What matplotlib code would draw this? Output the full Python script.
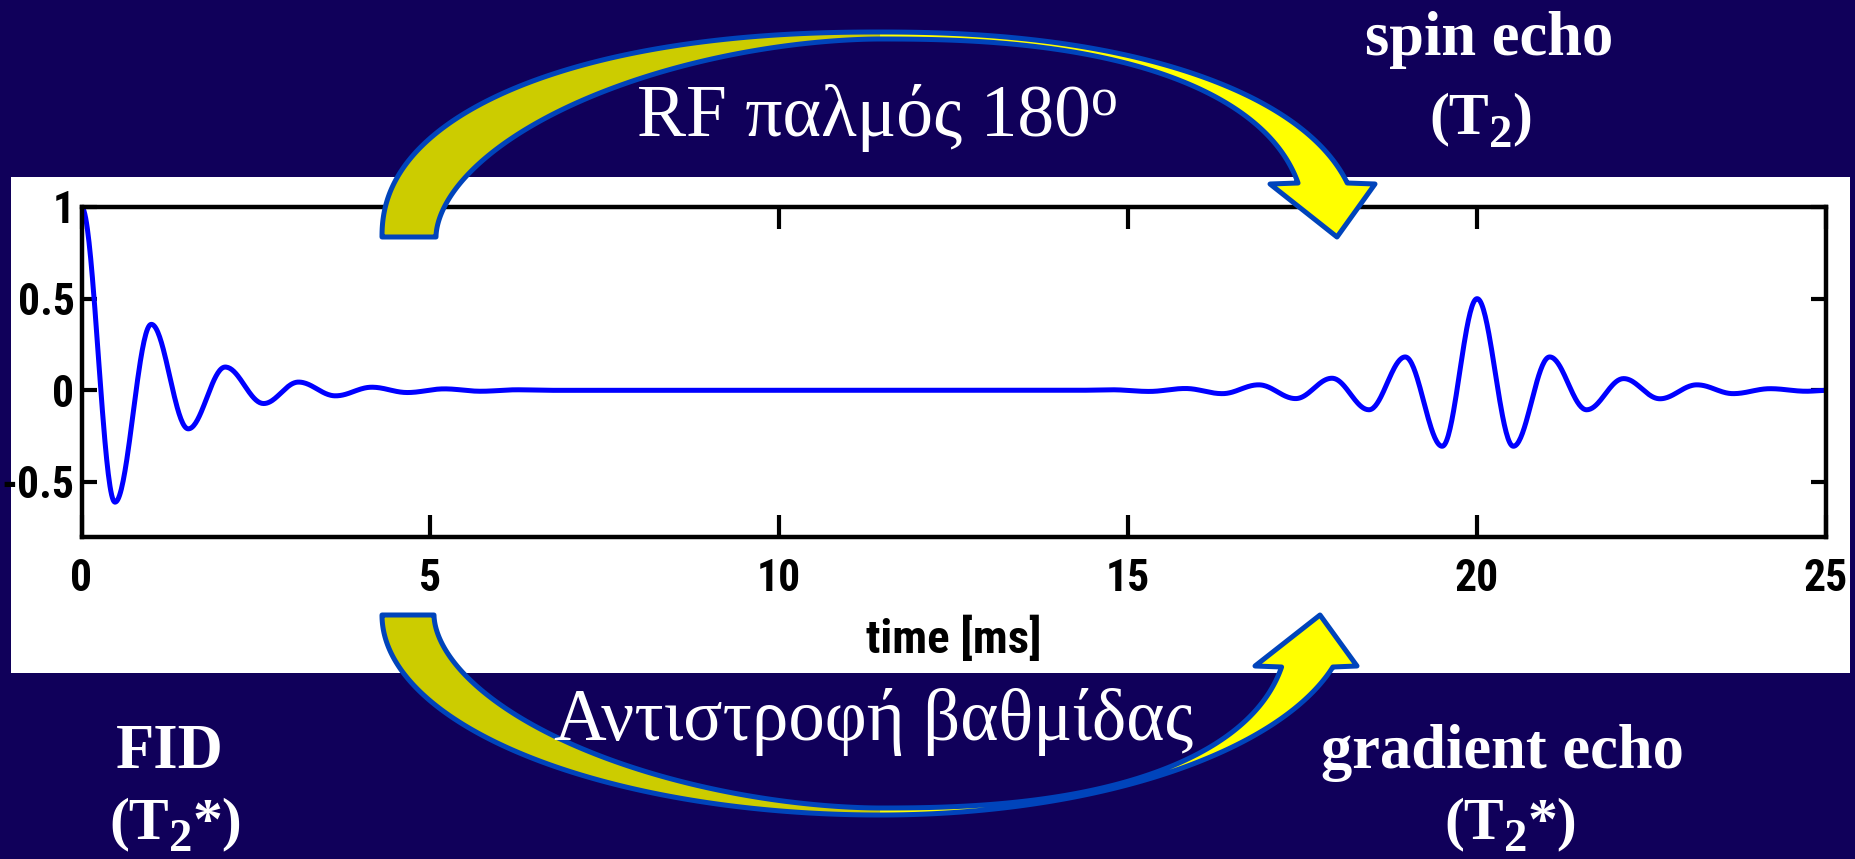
import numpy as np
import matplotlib
matplotlib.use("Agg")
import matplotlib.pyplot as plt
from matplotlib import font_manager
from matplotlib.patches import Polygon, Rectangle

# ---------------- data: signal extrema (time in ms, amplitude) ----------------
fid_time = [0.0, 0.48, 1.00, 1.53, 2.06, 2.61, 3.11, 3.64, 4.16, 4.67, 5.20, 5.72, 6.24, 6.76]
fid_amp = [1.0, -0.61, 0.36, -0.21, 0.127, -0.072, 0.045, -0.030, 0.017, -0.012, 0.008, -0.005, 0.003, 0.0]

echo_time = [14.25, 14.77, 15.30, 15.82, 16.35, 16.87, 17.40, 17.92, 18.45, 18.97, 19.50,
             20.00, 20.52, 21.04, 21.57, 22.10, 22.62, 23.15, 23.67, 24.20, 24.72, 25.0]
echo_amp = [0.0, 0.003, -0.006, 0.010, -0.018, 0.030, -0.045, 0.066, -0.106, 0.182, -0.305,
            0.50, -0.305, 0.182, -0.106, 0.064, -0.046, 0.030, -0.018, 0.009, -0.005, 0.0]

x_ticks = [0, 5, 10, 15, 20, 25]
y_ticks = [-0.5, 0, 0.5, 1]
y_tick_labels = ["-0.5", "0", "0.5", "1"]
x_label = "time [ms]"

label_top_arrow = "RF παλμός 180"
label_bottom_arrow = "Αντιστροφή βαθμίδας"
label_spin = "spin echo"
label_gradient = "gradient echo"
label_fid = "FID"

# ---------------- style ----------------
BG = "#10005a"
OLIVE = "#cccc00"
YELLOW = "#ffff00"
EDGE = "#0044bb"
SERIF = "Liberation Serif"


def pick_narrow_sans():
    """Prefer a narrow bold sans face for the axis text, else plain Liberation Sans."""
    entries = font_manager.fontManager.ttflist
    prefs = [("Liberation Sans Narrow", None), ("Roboto Condensed", None),
             ("Roboto", "condensed"), ("Open Sans Condensed", None),
             ("Open Sans", "condensed"), ("Noto Sans", "condensed"),
             ("DejaVu Sans", "condensed"), ("Liberation Sans", None)]
    for fam, stretch in prefs:
        for f in entries:
            if f.name == fam and (stretch is None or str(f.stretch) == stretch):
                return fam, (stretch or "normal")
    return "DejaVu Sans", "normal"


SANS, SANS_STRETCH = pick_narrow_sans()
plt.rcParams["font.family"] = [SANS, "Liberation Sans", "DejaVu Sans"]
plt.rcParams["font.stretch"] = SANS_STRETCH
plt.rcParams["font.weight"] = "bold"

W, H = 1855, 859
fig = plt.figure(figsize=(W / 100, H / 100), dpi=100, facecolor=BG)
renderer = fig.canvas.get_renderer()


def fitted_size(sample, max_pt, target_px):
    """Font size (pt) at which `sample` is at most target_px wide."""
    probe = fig.text(0, 0, sample, fontsize=max_pt, fontweight="bold")
    w = probe.get_window_extent(renderer).width
    probe.remove()
    return min(max_pt, max_pt * target_px / w)


tick_pt = fitted_size("0.5", 37, 57)
xlabel_pt = fitted_size(x_label, 36, 176)

# white panel behind the plot
fig.patches.append(Rectangle((11 / W, 1 - 673 / H), (1850 - 11) / W, (673 - 177) / H,
                             transform=fig.transFigure, facecolor="white",
                             edgecolor="none", zorder=-1))


def extrema_trace(times, values, per_seg=40):
    """Smooth trace through successive extrema using half-cosine segments."""
    ts, vs = [], []
    for t0, v0, t1, v1 in zip(times[:-1], values[:-1], times[1:], values[1:]):
        u = np.linspace(0.0, 1.0, per_seg, endpoint=False)
        ts.append(t0 + (t1 - t0) * u)
        vs.append(v0 + (v1 - v0) * (1 - np.cos(np.pi * u)) / 2)
    ts.append([times[-1]])
    vs.append([values[-1]])
    return np.concatenate(ts), np.concatenate(vs)


t, s = extrema_trace(fid_time + echo_time, fid_amp + echo_amp)

ax = fig.add_axes([81.5 / W, 1 - 537 / H, (1826 - 81.5) / W, (537 - 207) / H])
ax.set_facecolor("white")
ax.plot(t, s, color="#0000ff", lw=3.6, solid_capstyle="round")
ax.set_xlim(0, 25)
ax.set_ylim(-0.8, 1.0)
ax.set_xticks(x_ticks)
ax.set_xticklabels([str(v) for v in x_ticks])
ax.set_yticks(y_ticks)
ax.set_yticklabels(y_tick_labels)
for sp in ax.spines.values():
    sp.set_linewidth(3.2)
ax.tick_params(axis="x", direction="in", top=True, length=16, width=3, pad=15,
               labelsize=tick_pt)
ax.tick_params(axis="y", direction="in", right=True, length=11, width=3, pad=5,
               labelsize=tick_pt)
ax.set_xlabel(x_label, fontsize=xlabel_pt, fontweight="bold")
ax.xaxis.set_label_coords(0.5, -(616 - 537) / 330)
ax.xaxis.label.set_va("top")

# overlay in pixel coordinates for the arrows and slide labels
ov = fig.add_axes([0, 0, 1, 1], zorder=5)
ov.set_xlim(0, W)
ov.set_ylim(H, 0)
ov.axis("off")
ov.patch.set_alpha(0)


def arc(cx, cy, a, b, n, th0, th1, up, num=160):
    th = np.linspace(th0, th1, num)
    c, sn = np.cos(th), np.sin(th)
    x = cx + a * np.sign(c) * np.abs(c) ** (2.0 / n)
    dy = b * np.abs(sn) ** (2.0 / n)
    y = cy - dy if up else cy + dy
    return np.column_stack([x, y])


def curved_arrow(cx, cy, up, outer_l, inner_l, outer_r, inner_r, shaft_dy, head):
    ol = arc(cx, cy, *outer_l, np.pi, np.pi / 2, up)
    il = arc(cx, cy, *inner_l, np.pi / 2, np.pi, up)
    th_o = np.arcsin((shaft_dy / outer_r[1]) ** (outer_r[2] / 2))
    th_i = np.arcsin((shaft_dy / inner_r[1]) ** (inner_r[2] / 2))
    orr = arc(cx, cy, *outer_r, np.pi / 2, th_o, up)
    irr = arc(cx, cy, *inner_r, th_i, np.pi / 2, up)
    hd = np.array(head, dtype=float)
    ov.add_patch(Polygon(np.vstack([ol, il]), closed=True, facecolor=OLIVE,
                         edgecolor="none", zorder=1))
    ov.add_patch(Polygon(np.vstack([orr, hd, irr]), closed=True, facecolor=YELLOW,
                         edgecolor="none", zorder=1))
    ov.add_patch(Polygon(np.vstack([ol, orr, hd, irr, il]), closed=True, fill=False,
                         edgecolor=EDGE, lw=3.6, joinstyle="round", zorder=2))


curved_arrow(880, 237, True,
             outer_l=(498, 205, 2.2), inner_l=(444, 198, 1.8),
             outer_r=(479, 205, 2.2), inner_r=(426, 198, 2.4),
             shaft_dy=54, head=[(1375, 184), (1337, 237), (1270, 184)])
curved_arrow(880, 615, False,
             outer_l=(498, 200, 2.0), inner_l=(446, 193, 1.8),
             outer_r=(469, 200, 2.0), inner_r=(409, 193, 2.4),
             shaft_dy=52, head=[(1357, 666), (1320, 615), (1255, 666)])


def run_text(xc, y_base, pieces, size, weight):
    """Draw a run of text pieces (text, scale, baseline shift) centred at xc."""
    arts, widths = [], []
    for txt, scale, dy in pieces:
        a = ov.text(0, y_base + dy, txt, fontsize=size * scale, color="white",
                    family=SERIF, fontweight=weight, fontstretch="normal",
                    ha="left", va="baseline", zorder=3)
        arts.append(a)
        widths.append(a.get_window_extent(renderer).width)
    x = xc - sum(widths) / 2
    for a, w in zip(arts, widths):
        a.set_x(x)
        x += w


run_text(877, 136, [(label_top_arrow, 1.0, 0), ("o", 0.73, -21)], 53, "normal")
run_text(874, 740, [(label_bottom_arrow, 1.0, 0)], 52.5, "normal")
run_text(1489, 55, [(label_spin, 1.0, 0)], 45, "bold")
run_text(1481, 133, [("(T", 1.0, 0), ("2", 0.78, 14), (")", 1.0, 0)], 43, "bold")
run_text(1502, 768, [(label_gradient, 1.0, 0)], 45, "bold")
run_text(1511, 838, [("(T", 1.0, 0), ("2", 0.78, 13), ("*)", 1.0, 0)], 43, "bold")
run_text(170, 768, [(label_fid, 1.0, 0)], 45, "bold")
run_text(176, 838, [("(T", 1.0, 0), ("2", 0.78, 13), ("*)", 1.0, 0)], 43, "bold")

fig.savefig("out.png", dpi=100, facecolor=BG)
